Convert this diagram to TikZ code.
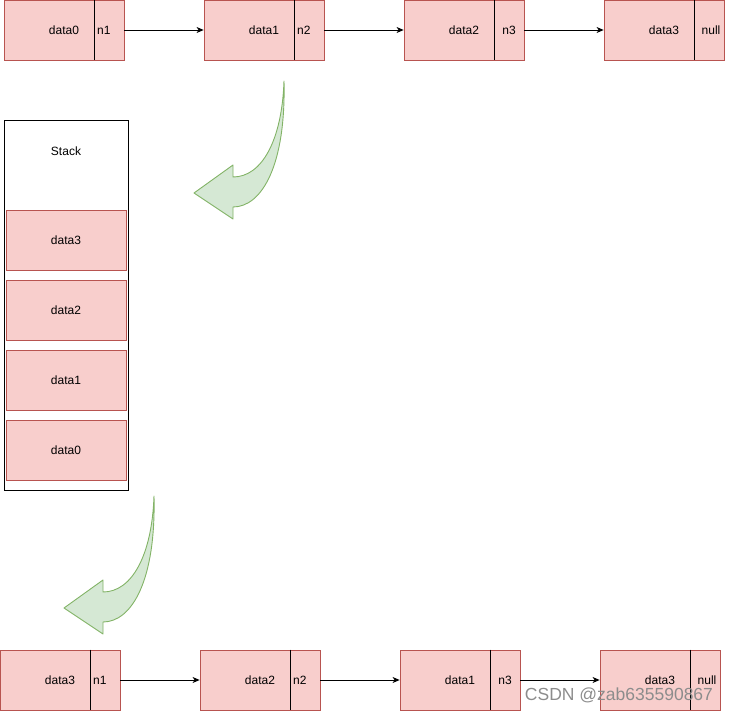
\documentclass[tikz,border=0pt]{standalone}
\usepackage{fontspec}
\setmainfont{Liberation Sans}
\usetikzlibrary{arrows.meta,calc}
\definecolor{cellfill}{HTML}{F8CECC}
\definecolor{celldraw}{HTML}{B85450}
\definecolor{arrfill}{HTML}{D5E8D4}
\definecolor{arrdraw}{HTML}{82B366}
\tikzset{
  cellbox/.style={draw=celldraw, fill=cellfill, minimum width=120pt, minimum height=60pt, inner sep=0pt, line width=0.8pt},
  lbl/.style={font=\fontsize{12}{14}\selectfont, inner sep=0pt},
  leftptr/.style={anchor=west, xshift=-12pt},
  midptr/.style={},
  link/.style={-{Stealth[length=7pt,width=6pt,inset=2pt]}, line width=0.8pt},
  greenbend/.style={fill=arrfill, draw=arrdraw, line width=0.9pt, line join=round},
}
\newcommand{\listcell}[6]{% name, x-left, y-top, data text, pointer text, pointer style
  \node[cellbox] (#1) at (#2+60,#3+30) {};
  \draw[line width=0.8pt] ($(#1.north east)+(-30pt,0)$) -- ($(#1.south east)+(-30pt,0)$);
  \node[lbl] (#1d) at (#2+60,#3+30) {#4};
  \node[lbl, #6] (#1p) at (#2+105,#3+30) {#5};
}
\newcommand{\bendarrow}[2]{% x shift, y shift
  \begin{scope}[shift={(#1,#2)}]
  \draw[greenbend] (284,81) .. controls (286,165) and (262,207) .. (233,207)
    -- (233,219) -- (194,193) -- (233,165) -- (233,177)
    .. controls (262,177) and (282,140) .. (284,81) -- cycle;
  \end{scope}
}
\begin{document}
\begin{tikzpicture}[x=1pt,y=-1pt]
\useasboundingbox (0,0) rectangle (729,712);
% top list
\listcell{a0}{4}{0}{data0}{n1}{leftptr}
\listcell{a1}{204}{0}{data1}{n2}{leftptr}
\listcell{a2}{404}{0}{data2}{n3}{midptr}
\listcell{a3}{604}{0}{data3}{null}{xshift=2pt}
\draw[link] (a0.east) -- (a1.west);
\draw[link] (a1.east) -- (a2.west);
\draw[link] (a2.east) -- (a3.west);
% curved arrow 1
\bendarrow{0}{0}
% stack
\node[draw=black, fill=white, minimum width=124pt, minimum height=370pt, inner sep=0pt, line width=0.8pt] (stack) at (66,305) {};
\node[lbl] (stacklbl) at (66,151) {Stack};
\node[cellbox] (s3) at (66,240) {}; \node[lbl] at (s3) {data3};
\node[cellbox] (s2) at (66,310) {}; \node[lbl] at (s2) {data2};
\node[cellbox] (s1) at (66,380) {}; \node[lbl] at (s1) {data1};
\node[cellbox] (s0) at (66,450) {}; \node[lbl] at (s0) {data0};
% curved arrow 2
\bendarrow{-130}{415}
% bottom list
\listcell{b0}{0}{650}{data3}{n1}{leftptr}
\listcell{b1}{200}{650}{data2}{n2}{leftptr}
\listcell{b2}{400}{650}{data1}{n3}{midptr}
\listcell{b3}{600}{650}{data3}{null}{xshift=2pt}
\draw[link] (b0.east) -- (b1.west);
\draw[link] (b1.east) -- (b2.west);
\draw[link] (b2.east) -- (b3.west);
% watermark
\node[font=\fontsize{17.5}{20}\selectfont, text=black!45, inner sep=0pt] (wm) at (619,695) {CSDN @zab635590867};
\end{tikzpicture}
\end{document}
